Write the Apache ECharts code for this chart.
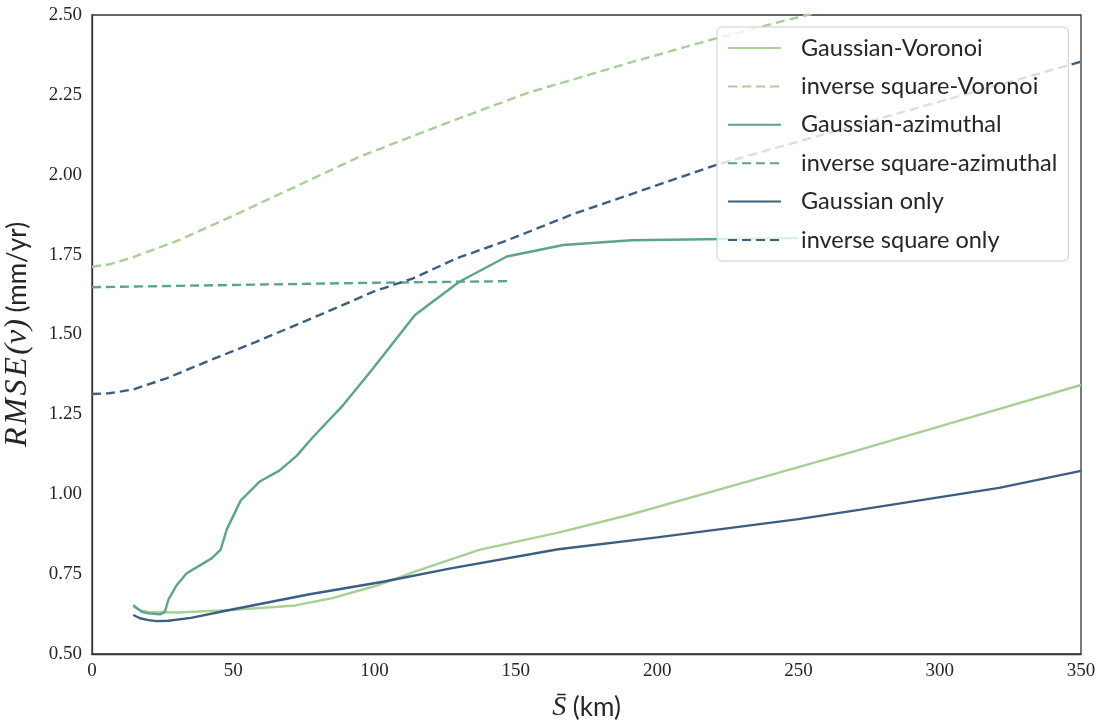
<!DOCTYPE html>
<html>
<head>
<meta charset="utf-8">
<script src="https://cdn.jsdelivr.net/npm/echarts@6/dist/echarts.min.js"></script>
<style>
  html, body { margin: 0; padding: 0; background: #ffffff; }
  #chart { width: 1104px; height: 723px; }
</style>
</head>
<body>
<div id="chart"></div>
<script>
// Mean station spacing S̄ (km) and RMSE of velocity (mm/yr) for each weighting scheme
const gaussVoronoiX = [14.6, 17, 20, 30, 50, 72, 85, 100, 115, 137, 165, 190, 230, 270, 310, 350];
const gaussVoronoiY = [0.648, 0.637, 0.632, 0.630, 0.638, 0.652, 0.675, 0.712, 0.760, 0.826, 0.880, 0.935, 1.035, 1.135, 1.238, 1.342];

const invVoronoiX = [0, 6.4, 14.6, 31, 50, 75, 94.8, 125, 153.8, 190, 221.6, 253, 300, 350];
const invVoronoiY = [1.712, 1.720, 1.742, 1.796, 1.872, 1.975, 2.057, 2.160, 2.255, 2.350, 2.429, 2.500, 2.600, 2.700];

const gaussAzimX = [14.6, 17.6, 20, 24.1, 25.8, 27, 28.3, 30, 33.5, 38.5, 42.4, 45.5, 47.7, 52.6, 59.2, 66.3, 72.4, 78.3, 88.9, 99, 114.3, 130, 146.8, 166.8, 191, 250];
const gaussAzimY = [0.653, 0.632, 0.627, 0.624, 0.632, 0.669, 0.690, 0.716, 0.753, 0.779, 0.800, 0.826, 0.890, 0.980, 1.039, 1.074, 1.120, 1.180, 1.279, 1.389, 1.561, 1.665, 1.744, 1.780, 1.795, 1.802];

const invAzimX = [0, 50, 100, 147.3];
const invAzimY = [1.648, 1.655, 1.662, 1.667];

const gaussOnlyX = [14.6, 17, 20, 23, 27, 35, 50, 77, 103, 127, 165, 200, 250, 272, 321, 350];
const gaussOnlyY = [0.622, 0.612, 0.606, 0.603, 0.604, 0.613, 0.640, 0.687, 0.726, 0.768, 0.828, 0.865, 0.922, 0.952, 1.020, 1.073];

const invOnlyX = [0, 6, 14.6, 26.4, 40.6, 58.3, 81.9, 99.6, 113.7, 129, 147.3, 170.3, 221.6, 260, 300, 350];
const invOnlyY = [1.314, 1.316, 1.328, 1.363, 1.415, 1.478, 1.566, 1.634, 1.676, 1.738, 1.796, 1.877, 2.033, 2.129, 2.229, 2.354];

const xTicks = [0, 50, 100, 150, 200, 250, 300, 350];
const yTicks = [0.50, 0.75, 1.00, 1.25, 1.50, 1.75, 2.00, 2.25, 2.50];

const seriesNames = ['Gaussian-Voronoi', 'inverse square-Voronoi', 'Gaussian-azimuthal',
                     'inverse square-azimuthal', 'Gaussian only', 'inverse square only'];
const seriesColors = ['#a7d096', '#a7d096', '#5ca48b', '#5ca48b', '#3c5e80', '#3c5e80'];

const zip = (xs, ys) => xs.map((x, i) => [x, ys[i]]);
const seriesData = [
  zip(gaussVoronoiX, gaussVoronoiY),
  zip(invVoronoiX, invVoronoiY),
  zip(gaussAzimX, gaussAzimY),
  zip(invAzimX, invAzimY),
  zip(gaussOnlyX, gaussOnlyY),
  zip(invOnlyX, invOnlyY)
];

const serif = '"Liberation Serif", "DejaVu Serif", serif';
const sans = 'Lato, "Open Sans", sans-serif';
const hair = '\u200A';

const chart = echarts.init(document.getElementById('chart'), null, { renderer: 'canvas' });

chart.setOption({
  animation: false,
  backgroundColor: '#ffffff',
  grid: {
    left: 92, right: 23, top: 15, bottom: 69,
    outerBoundsMode: 'none',
    containLabel: false,
    show: true, borderColor: '#333333', borderWidth: 1.3, backgroundColor: 'transparent'
  },
  legend: {
    orient: 'vertical',
    left: 717, top: 27,
    data: seriesNames,
    itemWidth: 53, itemHeight: 14,
    itemGap: 14.4,
    padding: [9, 11, 9, 10],
    backgroundColor: 'rgba(255,255,255,0.8)',
    borderColor: '#cccccc', borderWidth: 1, borderRadius: 5,
    // only the line sample is shown, no marker on it
    itemStyle: { opacity: 0, borderWidth: 0 },
    textStyle: { fontFamily: sans, fontSize: 23.5, color: '#262626', lineHeight: 24, padding: [0, 0, 0, 15] }
  },
  xAxis: {
    type: 'value', min: 0, max: 350, interval: 50,
    axisLine: { show: true, lineStyle: { color: '#333333', width: 1.3 } },
    axisTick: { show: false },
    splitLine: { show: false },
    axisLabel: {
      margin: 8, fontFamily: serif, fontSize: 19, color: '#262626',
      formatter: v => (xTicks.includes(v) ? String(v) : '')
    },
    name: '{i|S\u0304}  {s|(km)}',
    nameLocation: 'middle', nameGap: 40,
    nameTextStyle: {
      rich: {
        i: { fontFamily: serif, fontStyle: 'italic', fontSize: 28, color: '#262626' },
        s: { fontFamily: sans, fontSize: 26, color: '#262626' }
      }
    }
  },
  yAxis: {
    type: 'value', min: 0.5, max: 2.5, interval: 0.25,
    axisLine: { show: true, lineStyle: { color: '#333333', width: 1.3 } },
    axisTick: { show: false },
    splitLine: { show: false },
    axisLabel: {
      margin: 10, fontFamily: serif, fontSize: 19, color: '#262626',
      formatter: v => yTicks.find(t => Math.abs(t - v) < 1e-9) !== undefined ? v.toFixed(2) : ''
    },
    name: '{i|R' + hair + 'M' + hair + 'S' + hair + 'E' + hair + '(v)}  {s|(mm/yr)}',
    nameLocation: 'middle', nameGap: 58, nameRotate: 90,
    nameTextStyle: {
      rich: {
        i: { fontFamily: serif, fontStyle: 'italic', fontSize: 32, color: '#262626' },
        s: { fontFamily: sans, fontSize: 26, color: '#262626' }
      }
    }
  },
  series: seriesNames.map((name, i) => ({
    name,
    type: 'line',
    data: seriesData[i],
    symbol: 'none',
    smooth: false,
    clip: true,
    color: seriesColors[i],
    lineStyle: {
      color: seriesColors[i],
      width: 2.4,
      type: i % 2 === 1 ? [9, 5] : 'solid'
    },
    z: 2
  }))
});
</script>
</body>
</html>
